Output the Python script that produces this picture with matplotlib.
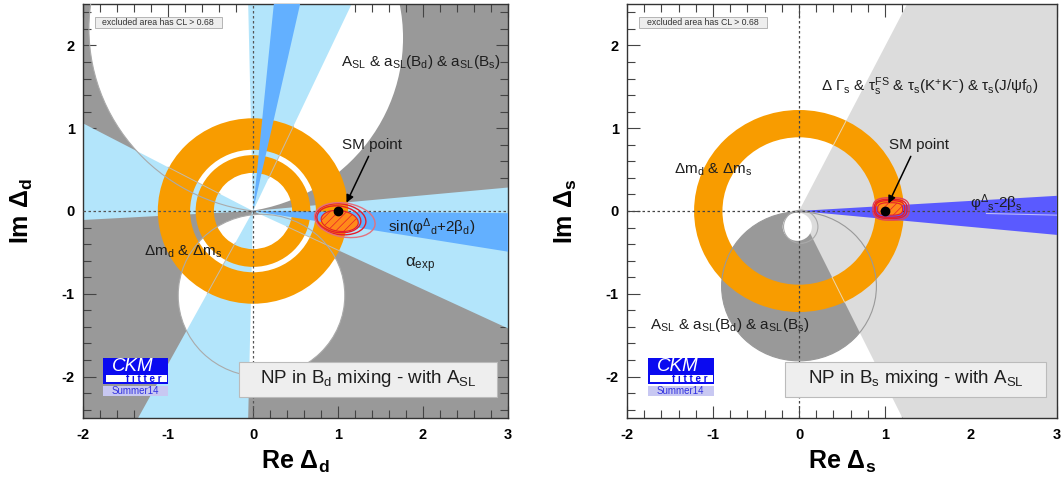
import numpy as np
import matplotlib
matplotlib.use('Agg')
import matplotlib.pyplot as plt
from matplotlib.patches import Wedge, Circle, Ellipse, Rectangle, Polygon
from matplotlib.ticker import MultipleLocator

plt.rcParams['font.family'] = ['Liberation Sans', 'DejaVu Sans']
plt.rcParams['mathtext.fontset'] = 'custom'
plt.rcParams['mathtext.rm'] = 'Liberation Sans'
plt.rcParams['mathtext.it'] = 'Liberation Sans:italic'
plt.rcParams['mathtext.bf'] = 'Liberation Sans:bold'
plt.rcParams['axes.unicode_minus'] = False
plt.rcParams['hatch.linewidth'] = 0.5

# ── colours ───────────────────────────────────────────────────────────────
GRAY, LGRAY = '#999999', '#dcdcdc'
LBLUE, BLUE, VIOLET = '#b3e5fb', '#63b0ff', '#5a5aff'
ORANGE, RED, PINK = '#f89c00', '#e61e2a', '#e2727e'
TXT = '#1e1e1e'

XLIM, YLIM = (-2, 3), (-2.5, 2.5)
XTICKS = [-2, -1, 0, 1, 2, 3]
YTICKS = [-2, -1, 0, 1, 2]

# ── NP in B_d (left) : regions, data coordinates ──────────────────────────
bd_asl_upper = [(0.29, 2.20, 2.22), (-0.35, 2.09, 2.115)]  # (cx, cy, r), allowed = intersection
bd_asl_lower = (0.10, -1.02, 0.98)
bd_alpha_wedges = [(-25.3, 5.4), (152.1, 183.1), (65.1, 91.3), (241.6, 268.7)]  # degrees
bd_sin_wedges = [(77.5, 84.4), (-9.3, -0.5)]
bd_dm_rings = [(0.46, 0.675), (0.74, 1.12)]
bd_cl_fill = (1.02, -0.12, 0.44, 0.25, -8)            # cx, cy, w, h, angle
bd_cl_lines = [(1.01, -0.10, 0.52, 0.32, -8),
               (1.03, -0.10, 0.60, 0.37, -8),
               (1.08, -0.11, 0.72, 0.41, -10)]

# ── NP in B_s (right) ─────────────────────────────────────────────────────
bs_dg_wedge = (-64.3, 63.3)
bs_asl_disk = (0.0, -0.91, 0.90)
bs_asl_hole = (-0.02, -0.19, 0.17)
bs_asl_hole_edge = (0.02, -0.19, 0.20)
bs_phi_wedge = (-5.5, 3.5)
bs_dm_ring = (0.89, 1.22)
bs_cl_fill = (1.06, 0.025, 0.29, 0.15)
bs_cl_lines = [(1.06, 0.025, 0.34, 0.20),
               (1.065, 0.025, 0.38, 0.23),
               (1.07, 0.025, 0.42, 0.27)]

SM = (1.0, 0.0)


def blob(cx, cy, w, h, p=3.0, n=200):
    t = np.linspace(0, 2 * np.pi, n)
    c, s = np.cos(t), np.sin(t)
    x = cx + w / 2 * np.sign(c) * np.abs(c) ** (2 / p)
    y = cy + h / 2 * np.sign(s) * np.abs(s) ** (2 / p)
    return np.column_stack([x, y])


def edge_lines(ax, angles, r0, r1, color, z=5):
    for a in angles:
        t = np.deg2rad(a)
        ax.plot([r0 * np.cos(t), r1 * np.cos(t)], [r0 * np.sin(t), r1 * np.sin(t)],
                color=color, lw=0.7, zorder=z)


def frame(ax, sub):
    ax.set_xlim(*XLIM); ax.set_ylim(*YLIM)
    ax.set_xticks(XTICKS); ax.set_yticks(YTICKS)
    ax.xaxis.set_minor_locator(MultipleLocator(0.2))
    ax.yaxis.set_minor_locator(MultipleLocator(0.2))
    ax.tick_params(which='both', direction='in', top=True, right=True,
                   color='#444444', width=0.8, labelsize=10.5)
    ax.tick_params(which='major', length=9)
    ax.tick_params(which='minor', length=5.5)
    ax.tick_params(axis='x', pad=7)
    ax.tick_params(axis='y', pad=6)
    for lbl in ax.get_xticklabels() + ax.get_yticklabels():
        lbl.set_fontweight('bold')
    for sp in ax.spines.values():
        sp.set_color('#333333'); sp.set_linewidth(1.0)
    ax.set_xlabel(r'Re $\mathbf{\Delta}_\mathbf{%s}$' % sub, fontsize=18,
                  fontweight='bold', labelpad=5)
    ax.set_ylabel(r'Im $\mathbf{\Delta}_\mathbf{%s}$' % sub, fontsize=18,
                  fontweight='bold', labelpad=19)


def cl_box(ax):
    ax.add_patch(Rectangle((-1.86, 2.21), 1.49, 0.13, facecolor='#eeeeee',
                           edgecolor='#aaaaaa', lw=0.6, zorder=10))
    ax.text(-1.115, 2.275, 'excluded area has CL > 0.68', fontsize=6.3,
            color='#333333', ha='center', va='center', zorder=11)


def np_box(ax, q):
    ax.add_patch(Rectangle((-0.16, -2.25), 3.03, 0.43, facecolor='#eeeeee',
                           edgecolor='#bbbbbb', lw=0.8, zorder=10))
    ax.text(1.355, -2.02, r'NP in B$_{\rm %s}$ mixing - with A$_{\rm SL}$' % q,
            fontsize=13.5, color=TXT, ha='center', va='center', zorder=11)


def ckm_logo(ax, x0, x1):
    w = x1 - x0
    ax.add_patch(Rectangle((x0, -2.085), w, 0.315, facecolor='#0a0af0',
                           edgecolor='none', zorder=10))
    ax.add_patch(Rectangle((x0 + 0.03, -2.07), w - 0.045, 0.085, facecolor='white',
                           edgecolor='none', zorder=11))
    ax.add_patch(Rectangle((x0, -2.24), w, 0.13, facecolor='#c8c8f2',
                           edgecolor='none', zorder=10))
    ax.text(x0 + 0.45 * w, -1.875, 'CKM', fontsize=13.5, style='italic',
            color='white', ha='center', va='center', zorder=12)
    ax.text(x0 + 0.63 * w, -2.03, 'f i t t e r', fontsize=7, fontweight='bold',
            color='#0a0af0', ha='center', va='center', zorder=12)
    ax.text(x0 + 0.5 * w, -2.175, 'Summer14', fontsize=7, color='#3030e0',
            ha='center', va='center', zorder=12)


def sm_point(ax, tail, head):
    ax.plot(*SM, 'o', color='black', ms=6, zorder=9)
    ax.annotate('', xy=head, xytext=tail, zorder=9,
                arrowprops=dict(arrowstyle='-|>', color='black', lw=1.1,
                                mutation_scale=11, shrinkA=0, shrinkB=0))
    ax.text(1.40, 0.80, 'SM point', fontsize=11, color=TXT, ha='center',
            va='center', zorder=9)


fig = plt.figure(figsize=(10.64, 4.79), dpi=100)

# ══════════════════════════ left : B_d ════════════════════════════════════
ax = fig.add_axes([83 / 1064, 61 / 479, 425 / 1064, 414 / 479])
ax.set_facecolor(GRAY)

# A_SL allowed regions (white)
c1 = Circle(bd_asl_upper[0][:2], bd_asl_upper[0][2], facecolor='white',
            edgecolor='none', zorder=1)
c2 = Circle(bd_asl_upper[1][:2], bd_asl_upper[1][2], transform=ax.transData)
c1.set_clip_path(c2)
ax.add_patch(c1)
c1.set_clip_box(ax.bbox)
ax.add_patch(Circle(bd_asl_lower[:2], bd_asl_lower[2], facecolor='white',
                    edgecolor='none', zorder=1))

# alpha_exp (light blue)
for t1, t2 in bd_alpha_wedges:
    ax.add_patch(Wedge((0, 0), 10, t1, t2, facecolor=LBLUE, edgecolor='none', zorder=2))

# Delta m_d & Delta m_s rings
for rin, rout in bd_dm_rings:
    ax.add_patch(Wedge((0, 0), rout, 0, 360, width=rout - rin, facecolor=ORANGE,
                       edgecolor='none', zorder=3))

# sin(phi + 2 beta) (blue)
for t1, t2 in bd_sin_wedges:
    ax.add_patch(Wedge((0, 0), 10, t1, t2, facecolor=BLUE, edgecolor='none', zorder=4))

# thin outlines
edge_lines(ax, [152.1, 65.1, -25.3, 241.6], 0.44, 1.13, '#c4bcae')
o1 = Circle(bd_asl_upper[0][:2], bd_asl_upper[0][2], fill=False, edgecolor='#aaaaaa',
            lw=0.8, zorder=5)
o2 = Circle(bd_asl_upper[1][:2], bd_asl_upper[1][2], transform=ax.transData)
o1.set_clip_path(o2)
ax.add_patch(o1)
o1.set_clip_box(ax.bbox)
ax.add_patch(Circle(bd_asl_lower[:2], bd_asl_lower[2], fill=False, edgecolor='#aaaaaa',
                    lw=0.8, zorder=5))

ax.axhline(0, color='#555555', lw=0.9, ls=(0, (2, 2)), zorder=6)
ax.axvline(0, color='#555555', lw=0.9, ls=(0, (2, 2)), zorder=6)

# CL contours around the best fit
cx, cy, w, h, a = bd_cl_fill
ax.add_patch(Ellipse((cx, cy), w, h, angle=a, facecolor='#ff8a1a', edgecolor=RED,
                     hatch='////', lw=0.8, zorder=7))
for i, (cx, cy, w, h, a) in enumerate(bd_cl_lines):
    ax.add_patch(Ellipse((cx, cy), w, h, angle=a, fill=False,
                         edgecolor=RED if i < 2 else PINK, lw=1.0, zorder=7))

sm_point(ax, (1.36, 0.66), (1.10, 0.10))
ax.text(1.97, 1.80, r'A$_{\rm SL}$ & a$_{\rm SL}$(B$_{\rm d}$) & a$_{\rm SL}$(B$_{\rm s}$)',
        fontsize=11, color=TXT, ha='center', va='center', zorder=9)
ax.text(2.10, -0.19, r'sin(φ$^{Δ}$$_{\rm d}$+2β$_{\rm d}$)', fontsize=11, color=TXT,
        ha='center', va='center', zorder=9)
ax.text(1.97, -0.66, r'α$_{\rm exp}$', fontsize=12, color=TXT, ha='center',
        va='center', zorder=9)
ax.text(-0.82, -0.49, r'Δm$_{\rm d}$ & Δm$_{\rm s}$', fontsize=11, color=TXT,
        ha='center', va='center', zorder=9)
cl_box(ax)
np_box(ax, 'd')
ckm_logo(ax, -1.76, -1.0)
frame(ax, 'd')

# ══════════════════════════ right : B_s ═══════════════════════════════════
ax = fig.add_axes([627 / 1064, 61 / 479, 430 / 1064, 414 / 479])
ax.set_facecolor('white')

ax.add_patch(Circle(bs_asl_disk[:2], bs_asl_disk[2], facecolor=GRAY, edgecolor='none',
                    zorder=1))
ax.add_patch(Wedge((0, 0), 10, *bs_dg_wedge, facecolor=LGRAY, edgecolor='none', zorder=2))
ax.add_patch(Circle(bs_asl_hole[:2], bs_asl_hole[2], facecolor='white', edgecolor='none',
                    zorder=2.5))
ax.add_patch(Wedge((0, 0), bs_dm_ring[1], 0, 360, width=bs_dm_ring[1] - bs_dm_ring[0],
                   facecolor=ORANGE, edgecolor='none', zorder=3))
ax.add_patch(Wedge((0, 0), 10, *bs_phi_wedge, facecolor=VIOLET, edgecolor='none',
                   zorder=4))
ax.plot([2.18, 3.0], [-0.03, -0.05], color='#b8b8ff', lw=0.8, zorder=4.5)

edge_lines(ax, bs_dg_wedge, bs_dm_ring[0], bs_dm_ring[1], '#ead7b4')
ax.add_patch(Circle(bs_asl_disk[:2], bs_asl_disk[2], fill=False, edgecolor='#999999',
                    lw=0.8, zorder=5))
ax.add_patch(Circle(bs_asl_hole_edge[:2], bs_asl_hole_edge[2], fill=False,
                    edgecolor='#aaaaaa', lw=0.8, zorder=5))

ax.axhline(0, color='#444444', lw=0.9, ls=(0, (2, 2)), zorder=6)
ax.axvline(0, color='#444444', lw=0.9, ls=(0, (2, 2)), zorder=6)

cx, cy, w, h = bs_cl_fill
ax.add_patch(Polygon(blob(cx, cy, w, h), closed=True, facecolor='#ff8a1a',
                     edgecolor=RED, hatch='////', lw=0.8, zorder=7))
for i, (cx, cy, w, h) in enumerate(bs_cl_lines):
    ax.add_patch(Polygon(blob(cx, cy, w, h), closed=True, fill=False,
                         edgecolor=RED if i < 2 else '#e0405a', lw=1.0, zorder=7))

sm_point(ax, (1.30, 0.66), (1.04, 0.09))
ax.text(1.52, 1.50,
        r'Δ Γ$_{\rm s}$ & τ$_{\rm s}^{\rm FS}$ & τ$_{\rm s}$(K$^{+}$K$^{-}$) & τ$_{\rm s}$(J/ψf$_{0}$)',
        fontsize=11, color=TXT, ha='center', va='center', zorder=9)
ax.text(-1.0, 0.50, r'Δm$_{\rm d}$ & Δm$_{\rm s}$', fontsize=11, color=TXT,
        ha='center', va='center', zorder=9)
ax.text(-0.81, -1.38, r'A$_{\rm SL}$ & a$_{\rm SL}$(B$_{\rm d}$) & a$_{\rm SL}$(B$_{\rm s}$)',
        fontsize=11, color=TXT, ha='center', va='center', zorder=9)
ax.text(2.30, 0.09, r'φ$^{Δ}$$_{\rm s}$-2β$_{\rm s}$', fontsize=11, color=TXT,
        ha='center', va='center', zorder=9)
cl_box(ax)
np_box(ax, 's')
ckm_logo(ax, -1.76, -0.99)
frame(ax, 's')

fig.savefig('out.png', dpi=100)
